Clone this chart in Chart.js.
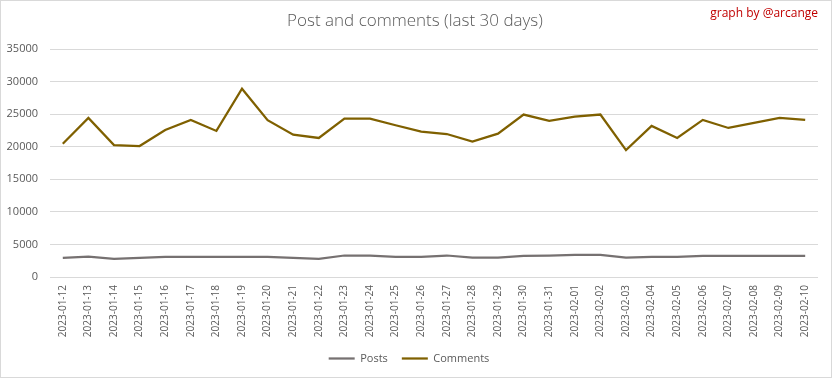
<!DOCTYPE html>
<html>
<head>
<meta charset="utf-8">
<script src="https://cdn.jsdelivr.net/npm/chart.js@4/dist/chart.umd.min.js"></script>
<style>
  html, body { margin: 0; padding: 0; background: #fff; }
  #wrap { position: relative; width: 832px; height: 378px; }
</style>
</head>
<body>
<div id="wrap"><canvas id="chart"></canvas></div>
<script>
var days = ['2023-01-12','2023-01-13','2023-01-14','2023-01-15','2023-01-16','2023-01-17','2023-01-18','2023-01-19','2023-01-20','2023-01-21',
  '2023-01-22','2023-01-23','2023-01-24','2023-01-25','2023-01-26','2023-01-27','2023-01-28','2023-01-29','2023-01-30','2023-01-31',
  '2023-02-01','2023-02-02','2023-02-03','2023-02-04','2023-02-05','2023-02-06','2023-02-07','2023-02-08','2023-02-09','2023-02-10'];
var posts = [2940, 3140, 2780, 2940, 3100, 3100, 3100, 3100, 3100, 2940,
  2780, 3300, 3300, 3100, 3100, 3300, 2990, 2990, 3250, 3300,
  3400, 3400, 2990, 3100, 3100, 3250, 3250, 3250, 3250, 3250];
var comments = [20450, 24430, 20250, 20100, 22570, 24120, 22420, 28910, 24070, 21850,
  21340, 24320, 24320, 23290, 22310, 21950, 20770, 22000, 24940, 23960,
  24630, 24940, 19480, 23190, 21340, 24120, 22880, 23650, 24430, 24120];
var yTicks = [0, 5000, 10000, 15000, 20000, 25000, 30000, 35000];

var textFont = '"Open Sans", "DejaVu Sans", sans-serif';

var headerPlugin = {
  id: 'header',
  beforeDraw: function(chart) {
    var ctx = chart.ctx;
    ctx.save();
    ctx.fillStyle = '#ffffff';
    ctx.fillRect(0, 0, chart.width, chart.height);
    ctx.strokeStyle = '#d9d9d9';
    ctx.lineWidth = 1;
    ctx.strokeRect(0.5, 0.5, chart.width - 1, chart.height - 1);
    ctx.restore();
  },
  afterDraw: function(chart) {
    var ctx = chart.ctx;
    ctx.save();
    ctx.textBaseline = 'middle';
    ctx.fillStyle = '#595959';
    ctx.font = '300 17px ' + textFont;
    ctx.textAlign = 'center';
    ctx.fillText('Post and comments (last 30 days)', 415, 21);
    ctx.fillStyle = '#c00000';
    ctx.font = '12px ' + textFont;
    ctx.textAlign = 'right';
    ctx.fillText('graph by @arcange', 818, 14);
    ctx.restore();
  }
};

new Chart(document.getElementById('chart'), {
  type: 'line',
  data: {
    labels: days,
    datasets: [
      { label: 'Posts', data: posts, borderColor: '#767171', backgroundColor: '#767171',
        borderWidth: 2.25, pointRadius: 0, tension: 0 },
      { label: 'Comments', data: comments, borderColor: '#7f6000', backgroundColor: '#7f6000',
        borderWidth: 2.25, pointRadius: 0, tension: 0 }
    ]
  },
  options: {
    responsive: true,
    maintainAspectRatio: false,
    animation: false,
    layout: { padding: { top: 49, left: 0, right: 14, bottom: 4 } },
    plugins: {
      title: { display: false },
      tooltip: { enabled: false },
      legend: {
        position: 'bottom',
        labels: {
          usePointStyle: true, pointStyle: 'line', pointStyleWidth: 26,
          color: '#595959', font: { family: textFont, size: 11 }, padding: 14, boxHeight: 2
        }
      }
    },
    scales: {
      x: {
        offset: true,
        afterFit: function(scale) { scale.height = 62; },
        grid: { display: false, drawTicks: false },
        border: { display: false },
        ticks: { color: '#595959', font: { family: textFont, size: 10 }, minRotation: 90, maxRotation: 90, autoSkip: false, padding: 8 }
      },
      y: {
        min: 0, max: 35000,
        afterBuildTicks: function(scale) { scale.ticks = yTicks.map(function(v) { return { value: v }; }); },
        afterFit: function(scale) { scale.width = 50; },
        grid: { color: '#d9d9d9', drawTicks: false },
        border: { display: false },
        ticks: { color: '#595959', font: { family: textFont, size: 11 }, padding: 12,
          callback: function(v) { return String(v); } }
      }
    }
  },
  plugins: [headerPlugin]
});
</script>
</body>
</html>
